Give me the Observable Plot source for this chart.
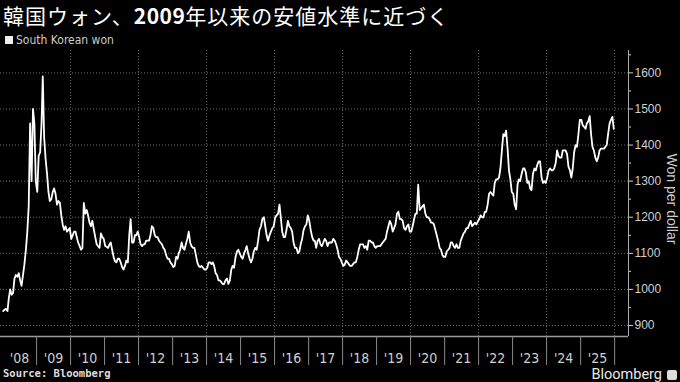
<!DOCTYPE html>
<html><head><meta charset="utf-8">
<script src="https://cdn.jsdelivr.net/npm/d3@7"></script>
<script src="https://cdn.jsdelivr.net/npm/@observablehq/plot@0.6"></script>
<style>
html,body{margin:0;padding:0;background:#000;}
#wrap{position:relative;width:680px;height:382px;overflow:hidden;background:#000;}
#title{position:absolute;left:3px;top:0;font-family:"Noto Sans CJK JP",sans-serif;font-size:21px;letter-spacing:1px;line-height:31px;color:#fff;white-space:nowrap;}
#title b{font-weight:700;letter-spacing:0.5px;}
#legend{position:absolute;left:5px;top:33px;font-family:"Liberation Sans Narrow","DejaVu Sans Condensed",sans-serif;font-size:12px;line-height:14px;color:#ccc;white-space:nowrap;}
#legend i{display:inline-block;width:8px;height:8px;background:#eee;margin-right:3px;vertical-align:0px;}
#chart{position:absolute;left:0;top:48px;}
#ylab{position:absolute;left:672px;top:199px;transform:translate(-50%,-50%) rotate(90deg);font-family:"Liberation Sans","Roboto",sans-serif;font-size:14px;color:#ccc;white-space:nowrap;}
#source{position:absolute;left:3px;top:367px;font-family:"DejaVu Sans Mono","Liberation Mono",monospace;font-weight:bold;font-size:10.5px;line-height:13px;color:#ddd;white-space:nowrap;}
#brand{position:absolute;right:3px;top:368px;font-family:"Liberation Sans Narrow","Roboto",sans-serif;font-size:14.5px;line-height:14px;color:#e8e8e8;white-space:nowrap;}
#brand span{display:inline-block;width:10px;height:10px;background:#ddd;border-radius:2px;margin-left:5px;vertical-align:-1px;}
</style>
</head><body>
<div id="wrap">
  <div id="title">韓国ウォン、<b>2009</b>年以来の安値水準に近づく</div>
  <div id="legend"><i></i>South Korean won</div>
  <div id="chart"></div>
  <div id="ylab">Won per dollar</div>
  <div id="source">Source: Bloomberg</div>
  <div id="brand">Bloomberg<span></span></div>
</div>
<script>
// Won per US dollar, two readings per month (early / late)
const w2008 = [940,944, 946,940, 975,1000, 985,990, 1030,1040, 1035,1045, 1025,1010, 1040,1070, 1110,1160, 1230,1460, 1300,1500, 1460,1300];
const w2009 = [1270,1370, 1380,1460, 1590,1420, 1360,1320, 1270,1245, 1250,1270, 1280,1265, 1235,1245, 1240,1205, 1180,1165, 1175,1160, 1165,1170];
const w2010 = [1140,1150, 1160,1160, 1145,1130, 1120,1110, 1115,1240, 1210,1220, 1205,1185, 1175,1190, 1165,1145, 1125,1120, 1115,1155, 1145,1140];
const w2011 = [1120,1118, 1115,1125, 1130,1110, 1090,1078, 1075,1085, 1085,1075, 1062,1055, 1065,1080, 1075,1150, 1195,1130, 1130,1150, 1150,1160];
const w2012 = [1145,1125, 1120,1125, 1125,1135, 1135,1135, 1150,1175, 1170,1150, 1145,1145, 1135,1130, 1125,1115, 1110,1095, 1085,1085, 1075,1070];
const w2013 = [1062,1065, 1090,1085, 1100,1110, 1130,1115, 1110,1125, 1140,1160, 1130,1120, 1115,1115, 1095,1075, 1065,1062, 1065,1060, 1055,1055];
const w2014 = [1060,1075, 1075,1070, 1075,1065, 1045,1040, 1025,1025, 1020,1015, 1015,1025, 1030,1015, 1025,1055, 1065,1060, 1090,1105, 1110,1100];
const w2015 = [1090,1085, 1100,1110, 1120,1100, 1085,1075, 1085,1105, 1115,1110, 1135,1165, 1175,1195, 1200,1175, 1150,1135, 1150,1160, 1170,1175];
const w2016 = [1200,1205, 1210,1235, 1200,1160, 1145,1145, 1165,1190, 1175,1170, 1160,1130, 1115,1115, 1100,1105, 1125,1140, 1165,1175, 1180,1205];
const w2017 = [1190,1165, 1145,1135, 1135,1115, 1135,1140, 1125,1120, 1130,1140, 1135,1120, 1130,1130, 1130,1140, 1135,1125, 1110,1090, 1085,1075];
const w2018 = [1065,1068, 1080,1075, 1070,1065, 1065,1070, 1075,1075, 1090,1110, 1125,1125, 1125,1115, 1120,1110, 1135,1135, 1130,1130, 1120,1115];
const w2019 = [1120,1120, 1120,1125, 1130,1135, 1140,1160, 1175,1190, 1180,1160, 1170,1180, 1210,1215, 1195,1195, 1190,1170, 1165,1175, 1180,1160];
const w2020 = [1160,1175, 1195,1210, 1210,1290, 1220,1225, 1230,1235, 1210,1200, 1200,1195, 1185,1185, 1180,1165, 1150,1135, 1115,1110, 1095,1090];
const w2021 = [1090,1105, 1110,1115, 1130,1130, 1120,1115, 1125,1115, 1115,1135, 1145,1155, 1160,1170, 1170,1180, 1190,1175, 1180,1185, 1180,1188];
const w2022 = [1195,1205, 1200,1200, 1215,1215, 1235,1265, 1270,1265, 1260,1295, 1305,1305, 1310,1335, 1385,1430, 1425,1440, 1390,1330, 1305,1270];
const w2023 = [1265,1235, 1222,1290, 1305,1300, 1320,1335, 1335,1325, 1295,1300, 1280,1275, 1320,1335, 1330,1345, 1355,1355, 1310,1295, 1300,1295];
const w2024 = [1310,1330, 1335,1330, 1330,1335, 1350,1385, 1370,1365, 1365,1385, 1385,1385, 1375,1340, 1330,1310, 1335,1380, 1400,1395, 1430,1470];
const w2025 = [1470,1455, 1450,1445, 1460,1465, 1480,1430, 1395,1385, 1365,1355, 1365,1385, 1390,1390, 1390,1395, 1400,1430, 1460,1470, 1478,1445];

const years = [2008,2009,2010,2011,2012,2013,2014,2015,2016,2017,2018,2019,2020,2021,2022,2023,2024,2025];
const series = [w2008,w2009,w2010,w2011,w2012,w2013,w2014,w2015,w2016,w2017,w2018,w2019,w2020,w2021,w2022,w2023,w2024,w2025];
const yTickValues = [900,1000,1100,1200,1300,1400,1500,1600];
const yMinorValues = [950,1050,1150,1250,1350,1450,1550,1650];
const seriesName = "South Korean won";

const data = [];
series.forEach((vals, k) => vals.forEach((v, i) => {
  data.push({date: new Date(Date.UTC(years[k], Math.floor(i / 2), i % 2 ? 23 : 8)), value: v});
}));

const yearStarts = d3.range(2009, 2027).map(y => new Date(Date.UTC(y, 0, 1)));
const midYears = years.map(y => new Date(Date.UTC(y, 6, 2)));
const gridYears = d3.range(2010, 2027, 2).map(y => new Date(Date.UTC(y, 0, 1)));
const xDomain = [new Date(Date.UTC(2007, 11, 10)), new Date(Date.UTC(2026, 4, 30))];
const yDomain = [869.5, 1662];

const chart = Plot.plot({
  width: 680,
  height: 322,
  marginTop: 2,
  marginRight: 52,
  marginBottom: 34,
  marginLeft: 0,
  style: {background: "#000", color: "#cfcfcf", fontFamily: "'Liberation Sans Narrow','DejaVu Sans Condensed',sans-serif", overflow: "visible"},
  x: {type: "utc", domain: xDomain},
  y: {domain: yDomain},
  marks: [
    Plot.gridX(gridYears, {stroke: "#6a6a6a", strokeOpacity: 1, strokeDasharray: "1,2"}),
    Plot.gridY(yTickValues, {stroke: "#6a6a6a", strokeOpacity: 1, strokeDasharray: "1,2"}),
    Plot.ruleX([xDomain[1]], {stroke: "#aaa", strokeWidth: 1}),
    Plot.ruleY([yDomain[0]], {stroke: "#999", strokeWidth: 1.5}),
    Plot.line(data, {x: "date", y: "value", stroke: "#fff", strokeWidth: 1.8}),
    Plot.axisY(yTickValues, {anchor: "right", tickSize: 4, tickPadding: 2, fontSize: 12, label: null,
      tickFormat: d => String(d), fontFamily: "'Liberation Sans','Roboto',sans-serif"}),
    Plot.axisY(yMinorValues, {anchor: "right", tickSize: 2, tickFormat: () => "", label: null}),
    Plot.axisX(midYears, {anchor: "bottom", tickSize: 0, tickPadding: 17, fontSize: 14, label: null,
      tickFormat: d => "'" + String(d.getUTCFullYear()).slice(2)}),
    Plot.axisX(yearStarts, {anchor: "bottom", tickSize: 29, tickFormat: () => "", label: null, stroke: "#8a8a8a"})
  ]
});
document.getElementById("chart").appendChild(chart);
</script>
</body></html>
